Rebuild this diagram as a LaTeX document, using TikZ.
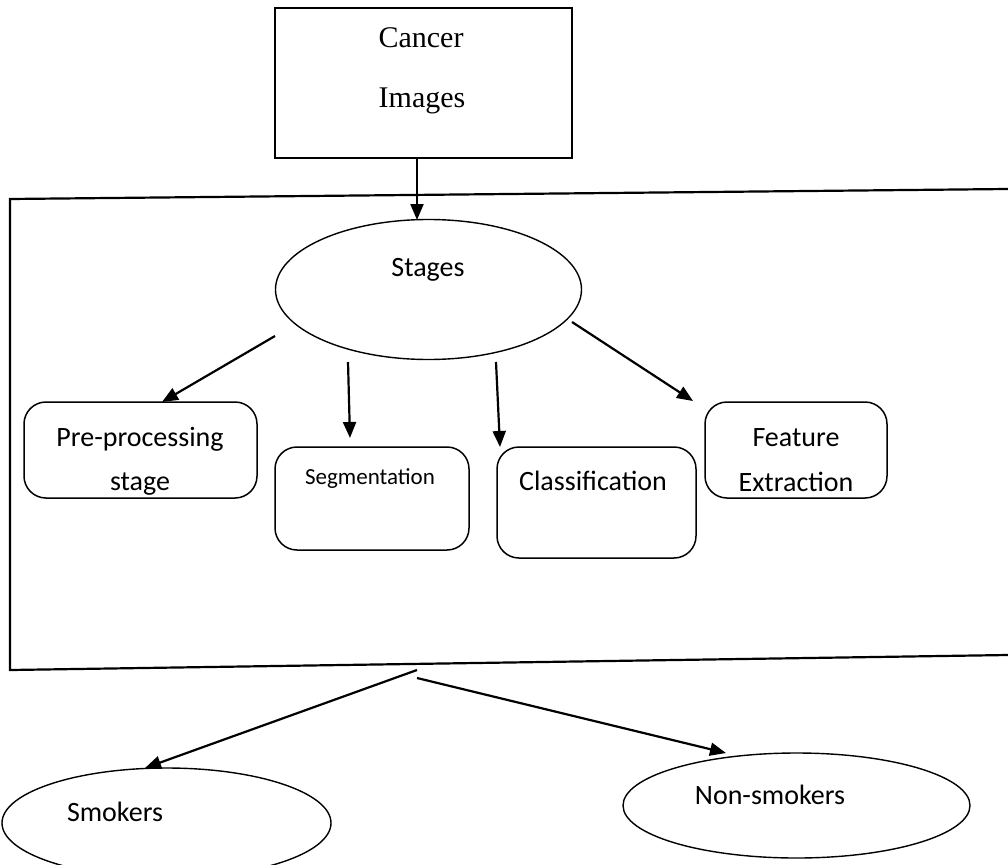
\documentclass[tikz,border=0pt]{standalone}
\usepackage{fontspec}
\setmainfont{Carlito}
\newfontfamily\cambriafont{Liberation Serif}
\usetikzlibrary{arrows.meta,shapes.geometric}
\begin{document}
\begin{tikzpicture}[x=1pt,y=-1pt,
  sq/.style={draw, rectangle, inner sep=0pt, line width=1.6pt},
  rbox/.style={draw, rectangle, rounded corners=22pt, inner sep=0pt, line width=1.5pt},
  ell/.style={draw, ellipse, inner sep=0pt, line width=1.4pt},
  lbl/.style={font=\fontsize{28}{34}\selectfont, anchor=base, inner sep=0pt},
  slbl/.style={font=\fontsize{23}{28}\selectfont, anchor=base, inner sep=0pt},
  serlbl/.style={font=\cambriafont\fontsize{30}{36}\selectfont, anchor=base, inner sep=0pt},
  frame/.style={line width=2.2pt},
  arr/.style={-{Triangle[length=16pt,width=13pt]}, line width=2.2pt},
]
\useasboundingbox (0,0) rectangle (1008,864);

% top box
\node[sq, minimum width=297pt, minimum height=150pt] (cancer) at (423.5,83) {};
\node[serlbl] (tcancer) at (421,48) {Cancer};
\node[serlbl] (timages) at (422,107) {Images};

% frame
\coordinate (ftl) at (10,199);
\coordinate (ftr) at (1008,189);
\coordinate (fbl) at (10,670);
\coordinate (fbr) at (1008,655);
\draw[frame] (ftr) -- (ftl) -- (fbl) -- (fbr);

% stages
\node[ell, minimum width=306pt, minimum height=140pt] (stages) at (428.5,289.5) {};
\node[lbl] (tstages) at (428,276) {Stages};

\coordinate (a0s) at (417,158);
\coordinate (a0e) at (417,220);
\draw[arr] (a0s) -- (a0e);

% stage boxes
\node[rbox, minimum width=233pt, minimum height=96pt] (pre) at (140.5,450) {};
\node[lbl] (tpre1) at (140,446) {Pre-processing};
\node[lbl] (tpre2) at (140,490) {stage};

\node[rbox, minimum width=194pt, minimum height=103pt] (seg) at (372,498.5) {};
\node[slbl] (tseg) at (370,484) {Segmentation};

\node[rbox, minimum width=199pt, minimum height=111pt] (cls) at (596.5,502.5) {};
\node[lbl] (tcls) at (593,490) {Classification};

\node[rbox, minimum width=182pt, minimum height=96pt] (feat) at (796,450) {};
\node[lbl] (tfeat1) at (796,446) {Feature};
\node[lbl] (tfeat2) at (796,491) {Extraction};

% arrows from stages
\coordinate (s1) at (275,336);
\coordinate (e1) at (162,402);
\coordinate (s2) at (348,362);
\coordinate (e2) at (350,438);
\coordinate (s3) at (496,362);
\coordinate (e3) at (500,447);
\coordinate (s4) at (572,322);
\coordinate (e4) at (693,401);
\draw[arr] (s1) -- (e1);
\draw[arr] (s2) -- (e2);
\draw[arr] (s3) -- (e3);
\draw[arr] (s4) -- (e4);

% bottom ellipses
\node[ell, minimum width=329pt, minimum height=110pt] (smk) at (166.5,823) {};
\node[lbl] (tsmk) at (115,821) {Smokers};
\node[ell, minimum width=347pt, minimum height=105pt] (nsm) at (796.5,805.5) {};
\node[lbl] (tnsm) at (770,804) {Non-smokers};

\coordinate (b1s) at (417,670);
\coordinate (b1e) at (145,768);
\coordinate (b2s) at (417,678);
\coordinate (b2e) at (726,753);
\draw[arr] (b1s) -- (b1e);
\draw[arr] (b2s) -- (b2e);
\end{tikzpicture}
\end{document}
